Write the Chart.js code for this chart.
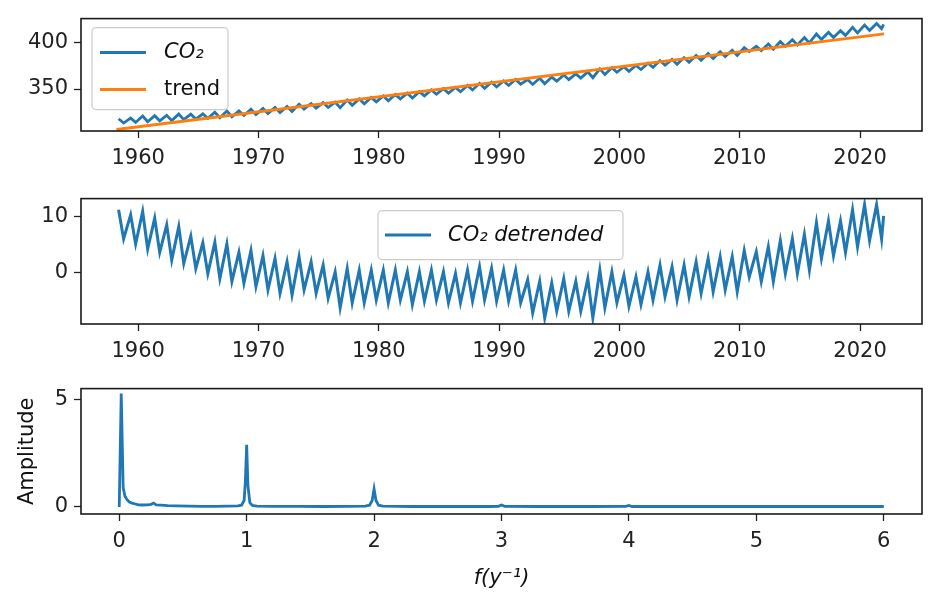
<!DOCTYPE html>
<html><head><meta charset="utf-8">
<script src="https://cdn.jsdelivr.net/npm/chart.js@4.4.1/dist/chart.umd.min.js"></script>
<style>
html,body{margin:0;padding:0;background:#fff;width:930px;height:592px;overflow:hidden}
canvas{position:absolute;left:0}
</style></head><body>
<canvas id="c1" width="930" height="176" style="top:0px"></canvas>
<canvas id="c2" width="930" height="189" style="top:180px"></canvas>
<canvas id="c3" width="930" height="222" style="top:370px"></canvas>
<script>
// ---------------- data ----------------
const years = [1958,1959,1960,1961,1962,1963,1964,1965,1966,1967,
  1968,1969,1970,1971,1972,1973,1974,1975,1976,1977,
  1978,1979,1980,1981,1982,1983,1984,1985,1986,1987,
  1988,1989,1990,1991,1992,1993,1994,1995,1996,1997,
  1998,1999,2000,2001,2002,2003,2004,2005,2006,2007,
  2008,2009,2010,2011,2012,2013,2014,2015,2016,2017,
  2018,2019,2020,2021];
const peakMonth = 5;    // May maximum
const troughMonth = 10; // October minimum

// CO2 (ppm) seasonal maxima and minima
const co2Max = [318.1,318.8,321.0,321.4,321.8,323.1,323.0,323.4,325.1,326.4,
  326.5,328.4,329.2,330.3,331.3,333.8,334.5,335.5,335.9,338.1,
  339.4,341.0,342.6,344.2,345.5,347.2,349.1,350.4,351.7,353.9,
  356.1,357.4,358.7,360.3,360.2,361.5,362.8,365.2,366.3,368.4,
  371.6,372.9,373.9,375.2,377.7,380.5,381.8,383.7,385.9,388.1,
  390.0,391.6,394.3,395.7,398.3,401.0,402.9,405.3,409.0,410.9,
  412.5,416.1,418.6,420.2];
const co2Min = [313.5,314.2,314.9,315.9,316.1,317.1,317.8,318.5,319.2,320.3,
  321.7,322.7,323.7,324.7,326.0,328.5,329.5,330.2,330.1,332.6,
  334.2,336.3,337.4,339.5,340.4,342.6,344.4,345.5,347.1,349.0,
  350.8,352.2,353.8,355.1,354.9,355.6,358.4,360.0,361.7,362.1,
  365.5,368.0,369.0,370.9,373.3,375.5,376.5,378.7,380.9,382.8,
  384.7,386.0,390.2,391.1,392.7,395.7,397.3,399.5,403.2,405.3,
  407.5,410.1,412.8,414.7];
const lastDate = 2021.96;
const co2Last = 419.2;

// linear trend end points
const trendDates = [1958.2, 2022.0];
const trendValues = [306.6, 409.1];

// detrended CO2 maxima / minima
const detMax = [11.2,10.3,10.9,9.7,8.5,8.2,6.5,5.3,5.4,5.1,
  3.6,3.9,3.0,2.5,1.9,2.8,1.9,1.3,0.1,0.7,
  0.4,0.4,0.4,0.4,0.1,0.1,0.4,0.1,-0.2,0.4,
  1.0,0.7,0.4,0.4,-1.3,-1.6,-1.9,-1.1,-1.6,-1.1,
  0.4,0.1,-0.5,-0.8,0.1,1.3,1.0,1.3,1.9,2.5,
  2.8,2.8,3.9,3.7,4.6,5.7,6.0,6.8,8.9,9.2,
  9.2,11.2,12.1,12.1];
const detMin = [6.0,5.1,4.2,3.6,2.2,1.6,0.7,-0.2,-1.1,-1.6,
  -1.9,-2.5,-3.1,-3.7,-4.0,-3.1,-3.7,-4.6,-6.3,-5.4,
  -5.4,-4.9,-5.4,-4.9,-5.7,-5.1,-4.9,-5.4,-5.4,-5.1,
  -4.9,-5.1,-5.1,-5.4,-7.2,-8.1,-6.9,-6.9,-6.9,-8.1,
  -6.3,-5.4,-6.0,-5.7,-4.9,-4.3,-4.9,-4.3,-3.7,-3.4,
  -3.1,-3.4,-0.8,-1.6,-1.6,-0.2,-0.2,0.4,2.5,3.0,
  3.6,4.6,5.7,6.0];
const detLast = 10.1;

// amplitude spectrum
const freq = [0,0.0157,0.031,0.045,0.06,0.08,0.1,0.12,0.15,0.18,0.22,0.25,0.27,0.29,0.33,0.38,0.45,0.55,0.65,0.75,0.85,0.93,0.96,0.98,0.99,1.0,1.01,1.025,1.045,1.08,1.2,1.4,1.6,1.8,1.93,1.965,1.985,2.0,2.015,2.035,2.07,2.3,2.6,2.9,2.975,3.0,3.025,3.3,3.7,3.975,4.0,4.025,4.5,5.0,5.5,6.0];
const amplitude = [0,5.3,0.9,0.5,0.35,0.23,0.18,0.15,0.1,0.09,0.1,0.12,0.18,0.1,0.08,0.06,0.05,0.04,0.03,0.03,0.04,0.05,0.08,0.3,1.2,2.9,1.0,0.2,0.07,0.04,0.03,0.03,0.02,0.03,0.04,0.08,0.3,0.84,0.3,0.08,0.04,0.02,0.02,0.02,0.03,0.09,0.03,0.02,0.02,0.03,0.07,0.02,0.02,0.02,0.02,0.02];

// tick labels
const yearTicks = [1960,1970,1980,1990,2000,2010,2020];
const co2Ticks = [350,400];
const detTicks = [0,10];
const freqTicks = [0,1,2,3,4,5,6];
const ampTicks = [0,5];

// ---------------- build point lists ----------------
function seasonal(maxArr, minArr, last) {
  const pts = [];
  years.forEach((yr, i) => {
    pts.push({x: yr + (peakMonth - 0.5) / 12, y: maxArr[i]});
    pts.push({x: yr + (troughMonth - 0.5) / 12, y: minArr[i]});
  });
  pts.push({x: lastDate, y: last});
  return pts;
}
const co2Pts = seasonal(co2Max, co2Min, co2Last);
const detPts = seasonal(detMax, detMin, detLast);
const trendPts = trendDates.map((d, i) => ({x: d, y: trendValues[i]}));
const specPts = freq.map((f, i) => ({x: f, y: amplitude[i]}));

// ---------------- styling ----------------
const BLUE = '#1f77b4', ORANGE = '#ff7f0e';
const FONT = 'DejaVu Sans';
const FS = 21;
Chart.defaults.font.family = FONT;

const framePlugin = {
  id: 'frame',
  afterDraw(chart, args, opts) {
    const {ctx, chartArea: a} = chart;
    ctx.save();
    ctx.strokeStyle = '#1a1a1a';
    ctx.lineWidth = 1.6;
    ctx.strokeRect(a.left, a.top, a.right - a.left, a.bottom - a.top);
    const lg = opts.legend;
    if (lg) {
      const x = a.left + lg.x, y = a.top + lg.y;
      ctx.beginPath();
      if (ctx.roundRect) ctx.roundRect(x, y, lg.w, lg.h, 4); else ctx.rect(x, y, lg.w, lg.h);
      ctx.fillStyle = 'rgba(255,255,255,0.85)';
      ctx.fill();
      ctx.strokeStyle = '#cccccc';
      ctx.lineWidth = 1.2;
      ctx.stroke();
      lg.items.forEach(it => {
        ctx.beginPath();
        ctx.strokeStyle = it.color;
        ctx.lineWidth = 3;
        ctx.moveTo(x + lg.hx0, y + it.ty);
        ctx.lineTo(x + lg.hx1, y + it.ty);
        ctx.stroke();
        ctx.fillStyle = '#111';
        ctx.textBaseline = 'middle';
        ctx.textAlign = 'left';
        ctx.font = (it.italic ? 'italic ' : '') + FS + 'px "' + FONT + '"';
        ctx.fillText(it.text, x + lg.tx, y + it.ty);
      });
    }
    ctx.restore();
  }
};

function axis(min, max, tickArr, fit, isX, title) {
  const o = {
    type: 'linear', min: min, max: max,
    afterBuildTicks: s => { s.ticks = tickArr.map(v => ({value: v})); },
    afterFit: s => { if (isX) s.height = fit; else s.width = fit; },
    grid: {drawOnChartArea: false, drawTicks: true, tickLength: 7, tickWidth: 1.3, tickColor: '#222'},
    border: {display: false},
    ticks: {padding: isX ? 8 : 6, color: '#222', font: {family: FONT, size: FS},
            callback: v => String(v), autoSkip: false, maxRotation: 0}
  };
  if (title) o.title = title;
  return o;
}

function baseOptions(padTop, xs, ys, legend) {
  return {
    responsive: false, animation: false, devicePixelRatio: 1,
    layout: {padding: {top: padTop, right: 8, left: 0, bottom: 0}},
    plugins: {legend: {display: false}, tooltip: {enabled: false}, frame: {legend: legend}},
    scales: {x: xs, y: ys},
    elements: {point: {radius: 0}, line: {tension: 0}}
  };
}

// Panel 1: CO2 and trend
new Chart(document.getElementById('c1'), {
  type: 'scatter',
  data: {datasets: [
    {label: 'trend', data: trendPts, showLine: true, borderColor: ORANGE, borderWidth: 2.8, pointRadius: 0, order: 0},
    {label: 'CO₂', data: co2Pts, showLine: true, borderColor: BLUE, borderWidth: 2.8, pointRadius: 0, order: 1}
  ]},
  options: baseOptions(8,
    axis(1955.25, 2025.15, yearTicks, 45, true),
    axis(305.0, 425.5, co2Ticks, 81, false),
    {x: 11, y: 9, w: 136, h: 82, hx0: 8, hx1: 54, tx: 72,
     items: [{text: 'CO₂', color: BLUE, italic: true, ty: 25},
             {text: 'trend', color: ORANGE, italic: false, ty: 62}]}),
  plugins: [framePlugin]
});

// Panel 2: detrended
new Chart(document.getElementById('c2'), {
  type: 'scatter',
  data: {datasets: [
    {label: 'CO₂ detrended', data: detPts, showLine: true, borderColor: BLUE, borderWidth: 3, pointRadius: 0}
  ]},
  options: baseOptions(15,
    axis(1955.25, 2025.15, yearTicks, 45, true),
    axis(-9.2, 13.2, detTicks, 81, false),
    {x: 297, y: 12, w: 245, h: 49, hx0: 7, hx1: 53, tx: 70,
     items: [{text: 'CO₂ detrended', color: BLUE, italic: true, ty: 24.5}]}),
  plugins: [framePlugin]
});

// Panel 3: spectrum
new Chart(document.getElementById('c3'), {
  type: 'scatter',
  data: {datasets: [
    {label: 'spectrum', data: specPts, showLine: true, borderColor: BLUE, borderWidth: 2.8, pointRadius: 0}
  ]},
  options: baseOptions(15,
    axis(-0.3, 6.3, freqTicks, 78, true,
      {display: true, text: 'f(y⁻¹)', color: '#111', font: {family: FONT, size: FS, style: 'italic'}, padding: {top: 0, bottom: 1}}),
    axis(-0.33, 5.53, ampTicks, 81, false,
      {display: true, text: 'Amplitude', color: '#111', font: {family: FONT, size: FS}, padding: {top: 15, bottom: 0}}),
    null),
  plugins: [framePlugin]
});
</script>
</body></html>
